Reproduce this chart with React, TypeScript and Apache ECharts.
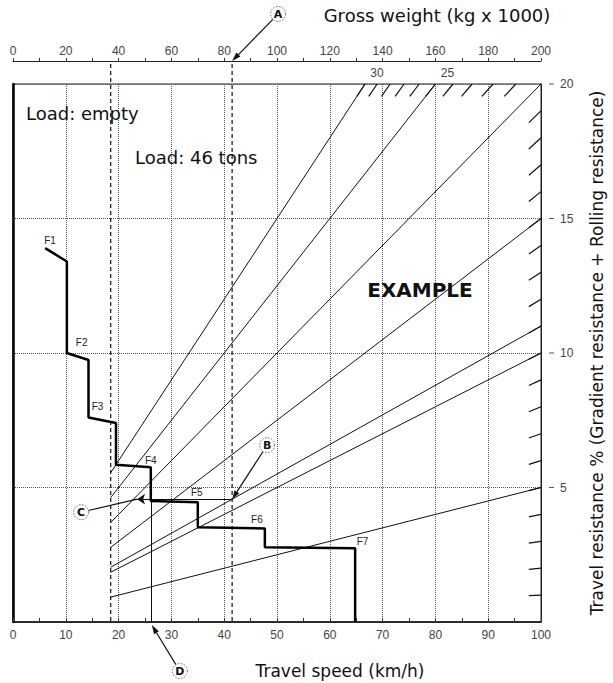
import React, { useEffect, useRef } from 'react';
import * as echarts from 'echarts';

// ---- data ----
const speedMax = 100;
const weightMax = 200;
const resistanceMax = 20;

const resistanceLines = [30, 25, 20, 15, 11, 10, 5];
const sideHatches = [1, 2, 3, 4, 5, 6, 7, 8, 9, 10, 11, 12, 13, 14, 15, 16, 17, 18, 19];
const topHatches = [21, 22, 23, 24, 25, 26, 27, 28, 29, 30];
const topLineLabels = [30, 25];
const rightTickValues = [5, 10, 15, 20];

const emptyWeight = 37;
const loadedWeight = 83;

const rimpullSpeed = [6.1, 10.2, 10.2, 14.3, 14.3, 19.5, 19.5, 26.1, 26.1, 35.0, 35.0, 47.7, 47.7, 64.8, 64.8];
const rimpullRes = [13.9, 13.4, 10.0, 9.74, 7.6, 7.4, 5.85, 5.75, 4.5, 4.45, 3.52, 3.48, 2.78, 2.74, 0];

const gearNames = ['F1', 'F2', 'F3', 'F4', 'F5', 'F6', 'F7'];
const gearLabelSpeed = [7.0, 13.0, 16.0, 26.1, 34.8, 46.2, 66.2];
const gearLabelRes = [14.2, 10.4, 8.0, 6.0, 4.8, 3.8, 3.0];

const exampleResistance = 11;
const exampleResultSpeed = 26.1;
const exampleArrowEndSpeed = 23.5;

const FONT = 'DejaVu Sans, Open Sans, sans-serif';
const TICKFONT = 'Liberation Sans, Arial, sans-serif';

function lineEnd(r: number): number[] {
  return r <= resistanceMax ? [weightMax, r] : [(weightMax * resistanceMax) / r, resistanceMax];
}

export default function App() {
  const ref = useRef<HTMLDivElement>(null);

  useEffect(() => {
    if (!ref.current) return;
    const chart = echarts.init(ref.current, null, { renderer: 'svg' });
    const hatchK = 0.977;
    const exRes = (exampleResistance * loadedWeight) / weightMax;
    const loadedSpeed = (loadedWeight * speedMax) / weightMax;

    const option: any = {
      animation: false,
      backgroundColor: '#fff',
      grid: { left: 13, right: 68, top: 84, bottom: 61, show: true, borderColor: '#222', borderWidth: 1 },
      xAxis: [
        {
          type: 'value', position: 'bottom', min: 0, max: speedMax, interval: 10,
          axisLine: { show: true, onZero: false, lineStyle: { color: '#111', width: 1.5 } },
          axisTick: { show: true, inside: true, length: 4, lineStyle: { color: '#333' } },
          minorTick: { show: true, splitNumber: 2, length: 4, lineStyle: { color: '#333' } },
          axisLabel: { color: '#444', fontSize: 12, margin: 7, fontFamily: TICKFONT },
          splitLine: { show: true, lineStyle: { color: '#555', type: 'dotted', width: 1 } },
        },
        {
          type: 'value', position: 'top', offset: 23, min: 0, max: weightMax, interval: 20,
          axisLine: { show: true, onZero: false, lineStyle: { color: '#222', width: 1 } },
          axisTick: { show: true, length: 3, lineStyle: { color: '#333' } },
          minorTick: { show: true, splitNumber: 2, length: 3, lineStyle: { color: '#333' } },
          axisLabel: { color: '#444', fontSize: 12, margin: 4, fontFamily: TICKFONT },
          splitLine: { show: false },
        },
      ],
      yAxis: [
        {
          type: 'value', position: 'left', min: 0, max: resistanceMax, interval: 5,
          axisLine: { show: true, onZero: false, lineStyle: { color: '#000', width: 2.5 } },
          axisTick: { show: false }, axisLabel: { show: false },
          splitLine: { show: true, lineStyle: { color: '#555', type: 'dotted', width: 1 } },
        },
        {
          type: 'value', position: 'right', min: 0, max: resistanceMax, interval: 5,
          axisLine: { show: true, onZero: false, lineStyle: { color: '#222', width: 1 } },
          axisTick: { show: false },
          axisLabel: { color: '#444', fontSize: 12, margin: 19, fontFamily: TICKFONT, formatter: (v: number) => (v === 0 ? '' : String(v)) },
          splitLine: { show: false },
          name: 'Travel resistance % (Gradient resistance + Rolling resistance)',
          nameLocation: 'middle', nameRotate: 90, nameGap: 47,
          nameTextStyle: { fontSize: 17, color: '#111', fontFamily: FONT },
        },
      ],
      series: [
        {
          type: 'lines', coordinateSystem: 'cartesian2d', xAxisIndex: 1, yAxisIndex: 0, silent: true,
          lineStyle: { color: '#111', width: 1, opacity: 1, curveness: 0 }, symbol: 'none',
          data: resistanceLines.map((r) => ({ coords: [[emptyWeight, (r * emptyWeight) / weightMax], lineEnd(r)] })),
        },
        {
          type: 'lines', coordinateSystem: 'cartesian2d', xAxisIndex: 1, yAxisIndex: 0, silent: true,
          lineStyle: { color: '#111', width: 1.2, opacity: 1, curveness: 0 }, symbol: 'none',
          data: [...sideHatches, ...topHatches].map((r) => {
            const e = lineEnd(r);
            return { coords: [[e[0] * hatchK, e[1] * hatchK], e] };
          }),
        },
        {
          type: 'line', xAxisIndex: 0, yAxisIndex: 0, symbol: 'none', silent: true,
          lineStyle: { color: '#000', width: 2.5 },
          data: rimpullSpeed.map((s, i) => [s, rimpullRes[i]]),
        },
        {
          type: 'lines', coordinateSystem: 'cartesian2d', xAxisIndex: 0, yAxisIndex: 0, silent: true,
          lineStyle: { color: '#111', width: 1, opacity: 1, curveness: 0 },
          symbol: ['none', 'arrow'], symbolSize: 8,
          data: [{ coords: [[loadedSpeed, exRes], [exampleArrowEndSpeed, exRes]] }],
        },
        {
          type: 'lines', coordinateSystem: 'cartesian2d', xAxisIndex: 0, yAxisIndex: 0, silent: true,
          lineStyle: { color: '#111', width: 1, opacity: 1, curveness: 0 }, symbol: 'none',
          data: [{ coords: [[exampleResultSpeed, exRes], [exampleResultSpeed, 0]] }],
        },
      ],
    };
    chart.setOption(option);

    const pS = (s: number, r: number) => chart.convertToPixel({ xAxisIndex: 0, yAxisIndex: 0 }, [s, r]) as number[];
    const pW = (w: number, r: number) => chart.convertToPixel({ xAxisIndex: 1, yAxisIndex: 0 }, [w, r]) as number[];
    const gridTop = pS(0, resistanceMax)[1];
    const gridBottom = pS(0, 0)[1];
    const gridRight = pS(speedMax, 0)[0];
    const topAxisY = gridTop - 23;

    const g: any[] = [];
    const arrow = (from: number[], to: number[], head = 9, hw = 2.8) => {
      const dx = to[0] - from[0], dy = to[1] - from[1];
      const L = Math.sqrt(dx * dx + dy * dy);
      const ux = dx / L, uy = dy / L;
      const bx = to[0] - ux * head, by = to[1] - uy * head;
      g.push({ type: 'line', silent: true, shape: { x1: from[0], y1: from[1], x2: bx, y2: by }, style: { stroke: '#111', lineWidth: 1.2 } });
      g.push({ type: 'polygon', silent: true, shape: { points: [[to[0], to[1]], [bx - uy * hw, by + ux * hw], [bx + uy * hw, by - ux * hw]] }, style: { fill: '#111' } });
    };
    const circleLabel = (c: number[], t: string) => {
      g.push({ type: 'circle', silent: true, shape: { cx: c[0], cy: c[1], r: 7.5 }, style: { fill: '#fff', stroke: '#666', lineWidth: 1, lineDash: [1.5, 1.5] } });
      g.push({ type: 'text', silent: true, x: c[0], y: c[1], style: { text: t, fontSize: 11, fontWeight: 'bold', fill: '#111', align: 'center', verticalAlign: 'middle', fontFamily: FONT } });
    };
    const edge = (c: number[], to: number[], r = 7.5) => {
      const dx = to[0] - c[0], dy = to[1] - c[1];
      const L = Math.sqrt(dx * dx + dy * dy);
      return [c[0] + (dx / L) * r, c[1] + (dy / L) * r];
    };

    // dashed weight lines
    [emptyWeight, loadedWeight].forEach((w) => {
      const x = pW(w, 0)[0];
      g.push({ type: 'line', silent: true, shape: { x1: x, y1: topAxisY + 3, x2: x, y2: gridBottom }, style: { stroke: '#222', lineWidth: 1.3, lineDash: [4, 3] } });
    });

    // labels of steep lines at the top
    topLineLabels.forEach((r) => {
      const e = lineEnd(r);
      const p = pW(e[0], e[1]);
      g.push({ type: 'text', silent: true, x: p[0] + 12, y: p[1] - 11, style: { text: String(r), fontSize: 12, fill: '#444', align: 'center', verticalAlign: 'middle', fontFamily: TICKFONT } });
    });
    // small dashes before right-axis labels
    rightTickValues.forEach((v) => {
      const y = pS(speedMax, v)[1];
      g.push({ type: 'line', silent: true, shape: { x1: gridRight + 8, y1: y, x2: gridRight + 13, y2: y }, style: { stroke: '#555', lineWidth: 1 } });
    });

    // gear labels
    gearNames.forEach((n, i) => {
      const p = pS(gearLabelSpeed[i], gearLabelRes[i]);
      g.push({ type: 'text', silent: true, x: p[0], y: p[1], style: { text: n, fontSize: 10, fill: '#222', align: 'center', verticalAlign: 'middle', fontFamily: TICKFONT } });
    });

    // texts
    g.push({ type: 'text', silent: true, x: gridRight - 104, y: 15, style: { text: 'Gross weight (kg x 1000)', fontSize: 18, fill: '#111', align: 'center', verticalAlign: 'middle', fontFamily: FONT } });
    g.push({ type: 'text', silent: true, x: 340, y: gridBottom + 49, style: { text: 'Travel speed (km/h)', fontSize: 17, fill: '#111', align: 'center', verticalAlign: 'middle', fontFamily: FONT } });
    g.push({ type: 'text', silent: true, x: 26, y: gridTop + 29, style: { text: 'Load: empty', fontSize: 18, fill: '#111', align: 'left', verticalAlign: 'middle', fontFamily: FONT } });
    g.push({ type: 'text', silent: true, x: 135, y: gridTop + 73, style: { text: 'Load: 46 tons', fontSize: 18, fill: '#111', align: 'left', verticalAlign: 'middle', fontFamily: FONT } });
    g.push({ type: 'text', silent: true, x: 420, y: gridTop + 206, style: { text: 'EXAMPLE', fontSize: 20, fontWeight: 'bold', fill: '#111', align: 'center', verticalAlign: 'middle', fontFamily: FONT } });

    // A
    const aTip = [pW(loadedWeight, 0)[0], topAxisY];
    const aC = [aTip[0] + 46, aTip[1] - 47];
    arrow(edge(aC, aTip), aTip);
    circleLabel(aC, 'A');
    // B
    const bTip = pW(loadedWeight, exRes);
    const bC = [bTip[0] + 35, bTip[1] - 54];
    arrow(edge(bC, bTip), bTip);
    circleLabel(bC, 'B');
    // C
    const cEnd = pS(exampleArrowEndSpeed, exRes);
    const cC = [cEnd[0] - 56, cEnd[1] + 13];
    const cs = edge(cC, cEnd);
    g.push({ type: 'line', silent: true, shape: { x1: cs[0], y1: cs[1], x2: cEnd[0], y2: cEnd[1] }, style: { stroke: '#111', lineWidth: 1.2 } });
    circleLabel(cC, 'C');
    // D
    const dBase = pS(exampleResultSpeed, 0);
    const dTip = [dBase[0] + 1, dBase[1] + 3];
    const dC = [dBase[0] + 29, dBase[1] + 49];
    arrow(edge(dC, dTip), dTip);
    circleLabel(dC, 'D');

    chart.setOption({ graphic: g });

    return () => chart.dispose();
  }, []);

  return <div ref={ref} style={{ position: 'fixed', left: 0, top: 0, width: 613, height: 683, background: '#fff' }} />;
}
